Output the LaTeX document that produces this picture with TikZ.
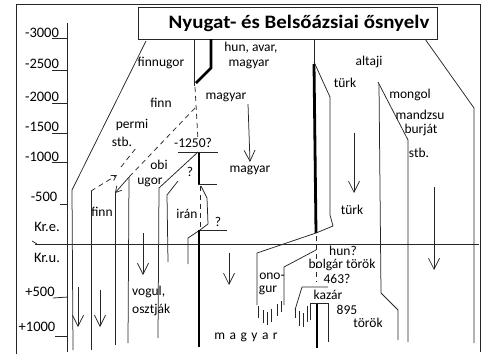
\documentclass[tikz,border=0pt]{standalone}
\usepackage{fontspec}
\usepackage{graphicx}
\setmainfont{Carlito}
\usetikzlibrary{arrows.meta}
\begin{document}
\begin{tikzpicture}[x=1pt,y=-1pt,
  lbl/.style={inner sep=0pt,font=\fontsize{13.5}{15}\selectfont},
  axl/.style={inner sep=0pt,font=\fontsize{14.5}{16}\selectfont},
  ln/.style={line width=0.75pt,draw=black!85},
  thk/.style={line width=2.8pt,draw=black},
  dsh/.style={ln,dash pattern=on 5pt off 4pt},
  arr/.style={ln,-{Straight Barb[length=11pt,width=11pt]}}]
\useasboundingbox (0,0) rectangle (489,354);
% frame
\draw[ln] (16,354) -- (16,4) -- (480,4) -- (480,352);
% title
\node[draw,ln,minimum width=299pt,minimum height=32pt,inner sep=0pt] (titlebox) at (287.5,23) {};
\node[inner sep=0pt,font=\bfseries\fontsize{19}{21}\selectfont] (title) at (299,23) {\scalebox{1.1}[1]{Nyugat- és Belsőázsiai ősnyelv}};
% axis
\draw[ln] (67,23) -- (67,352);
\node[axl] (t1) at (42,33) {-3000};  \draw[ln] (52,38) -- (67,38);
\node[axl] (t2) at (42,64) {-2500};  \draw[ln] (52,70) -- (67,70);
\node[axl] (t3) at (42,97) {-2000};  \draw[ln] (52,103) -- (67,103);
\node[axl] (t4) at (42,127) {-1500}; \draw[ln] (52,133) -- (67,133);
\node[axl] (t5) at (42,157) {-1000}; \draw[ln] (52,162) -- (67,162);
\node[axl] (t6) at (44,197) {-500};  \draw[ln] (60,204) -- (67,204);
\node[axl] (kre) at (47,227) {Kr.e.};
\node[axl] (kru) at (47,258) {Kr.u.};
\node[axl] (t7) at (40,292) {+500};  \draw[ln] (53,298) -- (68,297);
\node[axl] (t8) at (37,327) {+1000}; \draw[ln] (55,336) -- (67,336);
% Kr line
\draw[ln] (35,244) -- (479,244);
\draw[ln] (32,241) -- (37,244);
% finnugor
\draw[ln] (146,41) -- (72,190) -- (73,350);
% permi
\draw[ln] (91,191) -- (91,350);
\draw[dsh,-{Straight Barb[length=5pt,width=6pt]}] (91,191) -- (117,175);
\draw[dsh] (121,167) -- (136,148);
% finn
\draw[dsh] (195,108) -- (129,177);
\draw[ln] (129,177) -- (128,343);
\draw[ln,-{Straight Barb[length=6pt,width=7pt]}] (129,177) -- (115,193);
\draw[ln] (115,193) -- (115,345);
% obi ugor
\draw[ln] (198,152) -- (159,188) -- (158,338);
\draw[ln] (178,181) -- (167,195) -- (168,262);
% iran
\draw[ln] (188,264) -- (188,238) -- (200,230);
\draw[ln] (199,230) -- (227,230);
\draw[ln] (201,186) -- (207,198) -- (208,224) -- (200,230);
% magyar
\draw[thk] (199,152) -- (199,184);
\draw[dsh] (200,186) -- (200,229);
\draw[thk] (199,230) -- (199,347);
\draw[ln] (178,152) -- (218,152);
\draw[ln] (198,184) -- (217,184);
\draw[ln] (194,39) -- (194,86);
\draw[thk] (211,39) -- (211,68) -- (196,83);
\draw[dsh] (195,87) -- (198,140);
% turk
\draw[ln] (314,39) -- (314,64);
\draw[thk] (314,64) -- (316,233);
\draw[ln] (314,62) -- (330,97) -- (330,215) -- (333,226) -- (316,233);
\draw[dsh] (316,236) -- (316,282);
% onogur
\draw[ln] (316,233) -- (257,253) -- (257,305);
\draw[ln] (316,250) -- (284,267) -- (284,305);
\foreach \x/\a/\b in {258/306/318,263/310/323,267/312/325,271/309/322,277/304/316,281/301/312}
  \draw[ln] (\x,\a) -- (\x,\b);
% kazar
\draw[ln] (328,287) -- (302,287) -- (295,310);
\foreach \x/\a/\b in {295/308/318,299/311/326,303/313/327,307/306/322}
  \draw[ln] (\x,\a) -- (\x,\b);
\draw[thk] (317,303) -- (317,348);
\draw[ln] (310,320) -- (310,303) -- (328,303) -- (328,342);
% altaji
\draw[ln] (378,82) -- (408,140) -- (408,342);
\draw[ln] (379,84) -- (381,293) -- (398,310) -- (398,340);
\draw[ln] (425,39) -- (474,108) -- (474,343);
% arrows
\draw[arr] (248,104) -- (250,162);
\draw[arr] (354,133) -- (354,193);
\draw[arr] (434,187) -- (434,270);
\draw[arr] (78,287) -- (78,327);
\draw[arr] (100,290) -- (100,327);
\draw[arr] (143,233) -- (143,275);
\draw[arr] (229,253) -- (229,285);
% labels
\node[lbl] (l1) at (161,63) {finnugor};
\node[lbl] (l2) at (251,48) {hun, avar,};
\node[lbl] (l3) at (249,64) {magyar};
\node[lbl] (l4) at (226,97) {magyar};
\node[lbl] (l5) at (161,103) {finn};
\node[lbl] (l6) at (132,125) {permi};
\node[lbl] (l7) at (122,142) {stb.};
\node[lbl] (l8) at (193,143) {-1250?};
\node[lbl] (l9) at (159,165) {obi};
\node[lbl] (l10) at (190,172) {?};
\node[lbl] (l11) at (150,182) {ugor};
\node[lbl] (l12) at (250,170) {magyar};
\node[lbl] (l13) at (102,212) {finn};
\node[lbl] (l14) at (187,214) {irán};
\node[lbl] (l15) at (218,222) {?};
\node[lbl,anchor=west] (l16) at (132,292) {vogul,};
\node[lbl,anchor=west] (l17) at (132,310) {osztják};
\node[lbl] (l18) at (345,83) {türk};
\node[lbl] (l19) at (369,62) {altaji};
\node[lbl] (l20) at (410,95) {mongol};
\node[lbl] (l21) at (420,115) {mandzsu};
\node[lbl] (l22) at (421,130) {burját};
\node[lbl] (l23) at (419,153) {stb.};
\node[lbl] (l24) at (352,210) {türk};
\node[lbl] (l25) at (343,251) {hun?};
\node[lbl] (l26) at (342,265) {bolgár török};
\node[lbl] (l27) at (337,279) {463?};
\node[lbl] (l28) at (272,276) {ono-};
\node[lbl] (l29) at (268,290) {gur};
\node[lbl] (l30) at (328,295) {kazár};
\node[lbl] (l31) at (347,310) {895};
\node[lbl] (l32) at (368,323) {török};
\node[lbl] (l33) at (246,337) {m\hspace{4.5pt}a\hspace{4.5pt}g\hspace{4.5pt}y\hspace{4.5pt}a\hspace{4.5pt}r};
\end{tikzpicture}
\end{document}
